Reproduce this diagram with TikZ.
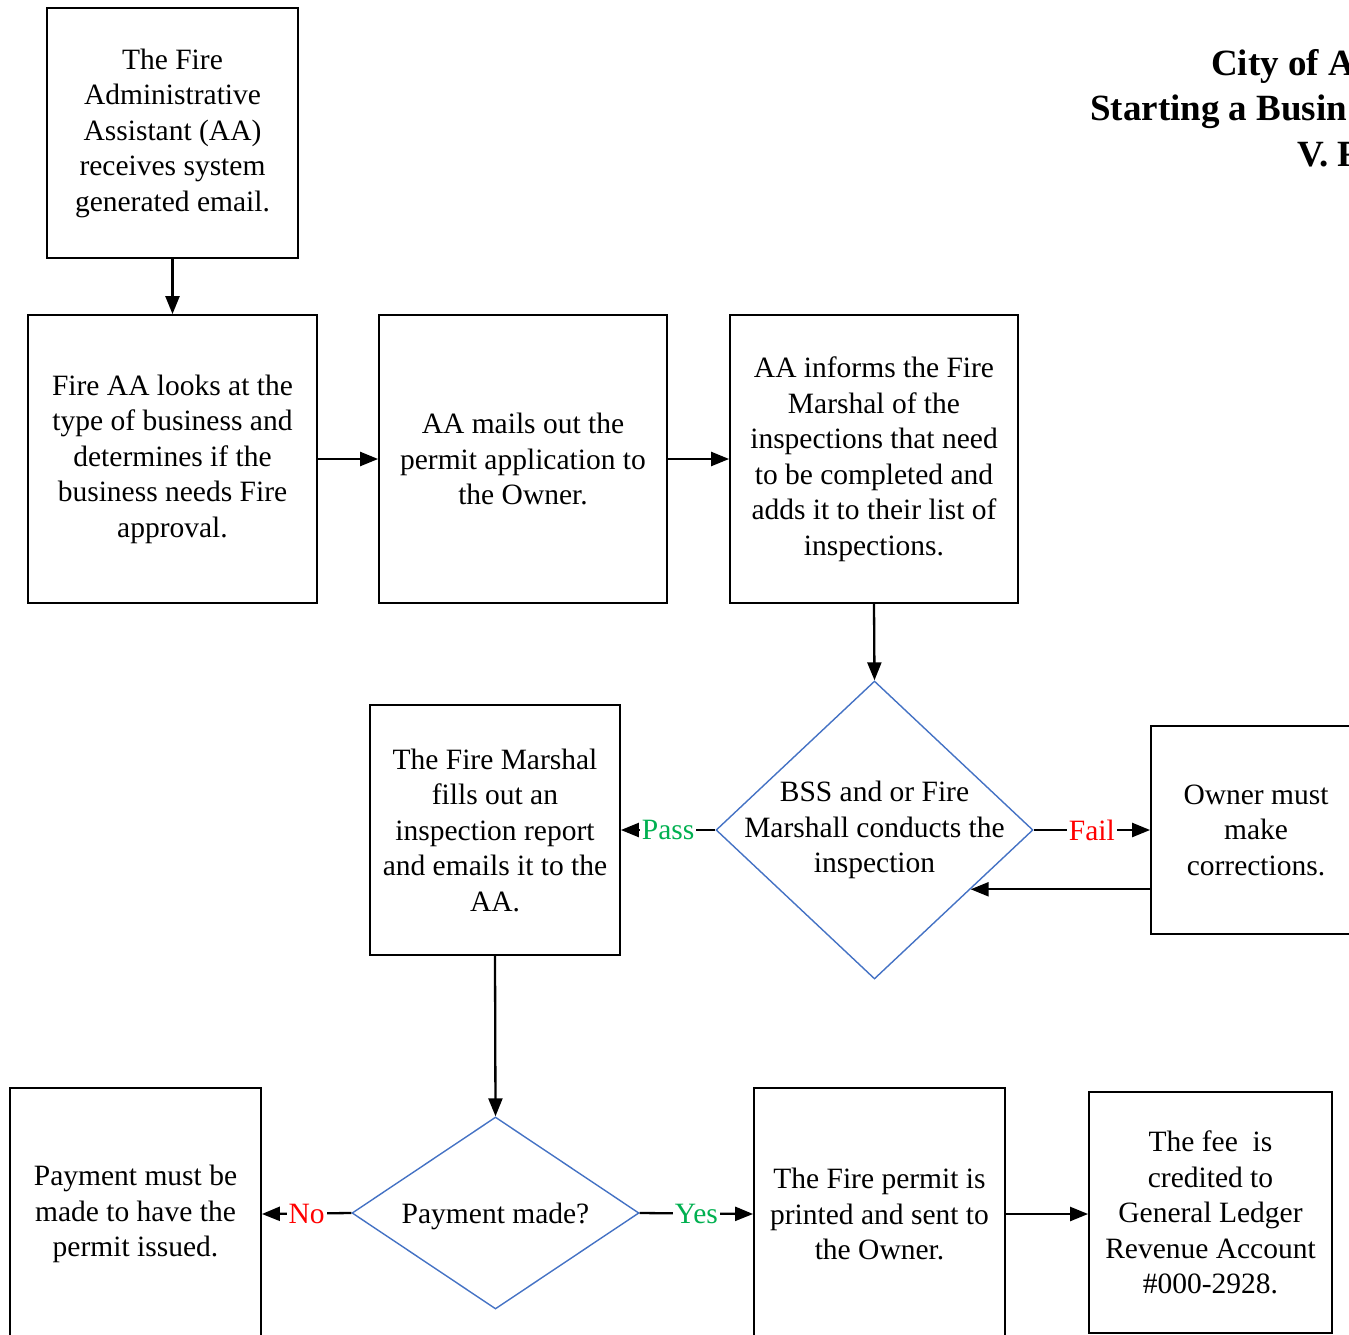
\documentclass[tikz,border=0pt]{standalone}
\usepackage{fontspec}
\setmainfont{Liberation Serif}
\usetikzlibrary{shapes.geometric,arrows.meta,calc}
\definecolor{dblue}{HTML}{4472C4}
\definecolor{ygreen}{HTML}{00B050}
\definecolor{nred}{HTML}{FF0000}
\newcommand\bodyfont{\fontsize{29.5}{35.5}\selectfont}
\newcommand\titlefont{\fontsize{37}{45}\selectfont\bfseries}
\newcommand\topstrut{\rule{0pt}{27pt}}
\tikzset{
  box/.style={draw=black, line width=1.8pt, rectangle, inner sep=0pt, align=center, font=\bodyfont, execute at begin node=\topstrut},
  dia/.style={draw=dblue, line width=1.4pt, shape=diamond, inner sep=0pt},
  dtext/.style={align=center, font=\bodyfont, inner sep=0pt, execute at begin node=\topstrut},
  arr/.style={line width=2.3pt, -{Triangle[length=18pt,width=14pt]}},
  lbl/.style={fill=white, inner sep=2pt, font=\bodyfont},
  ttl/.style={anchor=base west, font=\titlefont, inner sep=0pt},
}
\begin{document}
\begin{tikzpicture}[x=1pt,y=-1pt]
\useasboundingbox (0,0) rectangle (1349,1335);

% title
\node[ttl] (t1) at (1211,76) {City of A};
\node[ttl] (t2) at (1090,121) {Starting a Busin};
\node[ttl] (t3) at (1297,166) {V. F};

% boxes
\node[box, minimum width=251pt, minimum height=250pt] (A) at (172.5,133)
  {The Fire\\Administrative\\Assistant (AA)\\receives system\\generated email.};
\node[box, minimum width=289pt, minimum height=288pt] (B) at (172.5,459)
  {Fire AA looks at the\\type of business and\\determines if the\\business needs Fire\\approval.};
\node[box, minimum width=288pt, minimum height=288pt] (C) at (523,459)
  {AA mails out the\\permit application to\\the Owner.};
\node[box, minimum width=288pt, minimum height=288pt] (D) at (874,459)
  {AA informs the Fire\\Marshal of the\\inspections that need\\to be completed and\\adds it to their list of\\inspections.};

\node[dia, minimum width=317pt, minimum height=298pt] (d1) at (874.5,830) {};
\node[dtext] (d1t) at (874.5,830) {BSS and or Fire\\Marshall conducts the\\inspection};

\node[box, minimum width=250pt, minimum height=250pt] (E) at (495,830)
  {The Fire Marshal\\fills out an\\inspection report\\and emails it to the\\AA.};
\node[box, minimum width=210pt, minimum height=208pt] (F) at (1256,830)
  {Owner must\\make\\corrections.};

\node[dia, minimum width=287pt, minimum height=192pt] (d2) at (495.5,1213) {};
\node[dtext] (d2t) at (495.5,1213) {Payment made?};

\node[box, minimum width=251pt, minimum height=252pt] (G) at (135.5,1214)
  {Payment must be\\made to have the\\permit issued.};
\node[box, minimum width=251pt, minimum height=252pt] (H) at (879.5,1214)
  {The Fire permit is\\printed and sent to\\the Owner.};
\node[box, minimum width=243pt, minimum height=241pt] (I) at (1210.5,1212.5)
  {The fee\ \ is\\credited to\\General Ledger\\Revenue Account\\\#000-2928.};

% connectors
\draw[arr] (A.south) -- (B.north);
\draw[arr] (B.east) -- (C.west);
\draw[arr] (C.east) -- (D.west);
\draw[arr] (D.south) -- (d1.north);
\draw[arr] (d1.west) -- node[lbl, text=ygreen] {Pass} (E.east);
\draw[arr] (d1.east) -- node[lbl, text=nred] {Fail} (F.west);
\coordinate (ret) at ($(d1.east)!0.396!(d1.south)$);
\draw[arr] (F.west |- ret) -- (ret);
\draw[arr] (E.south) -- (d2.north);
\draw[arr] (d2.west) -- node[lbl, text=nred] {No} (G.east);
\draw[arr] (d2.east) -- node[lbl, text=ygreen] {Yes} (H.west);
\draw[arr] (H.east) -- (H.east -| I.west);
\end{tikzpicture}
\end{document}
